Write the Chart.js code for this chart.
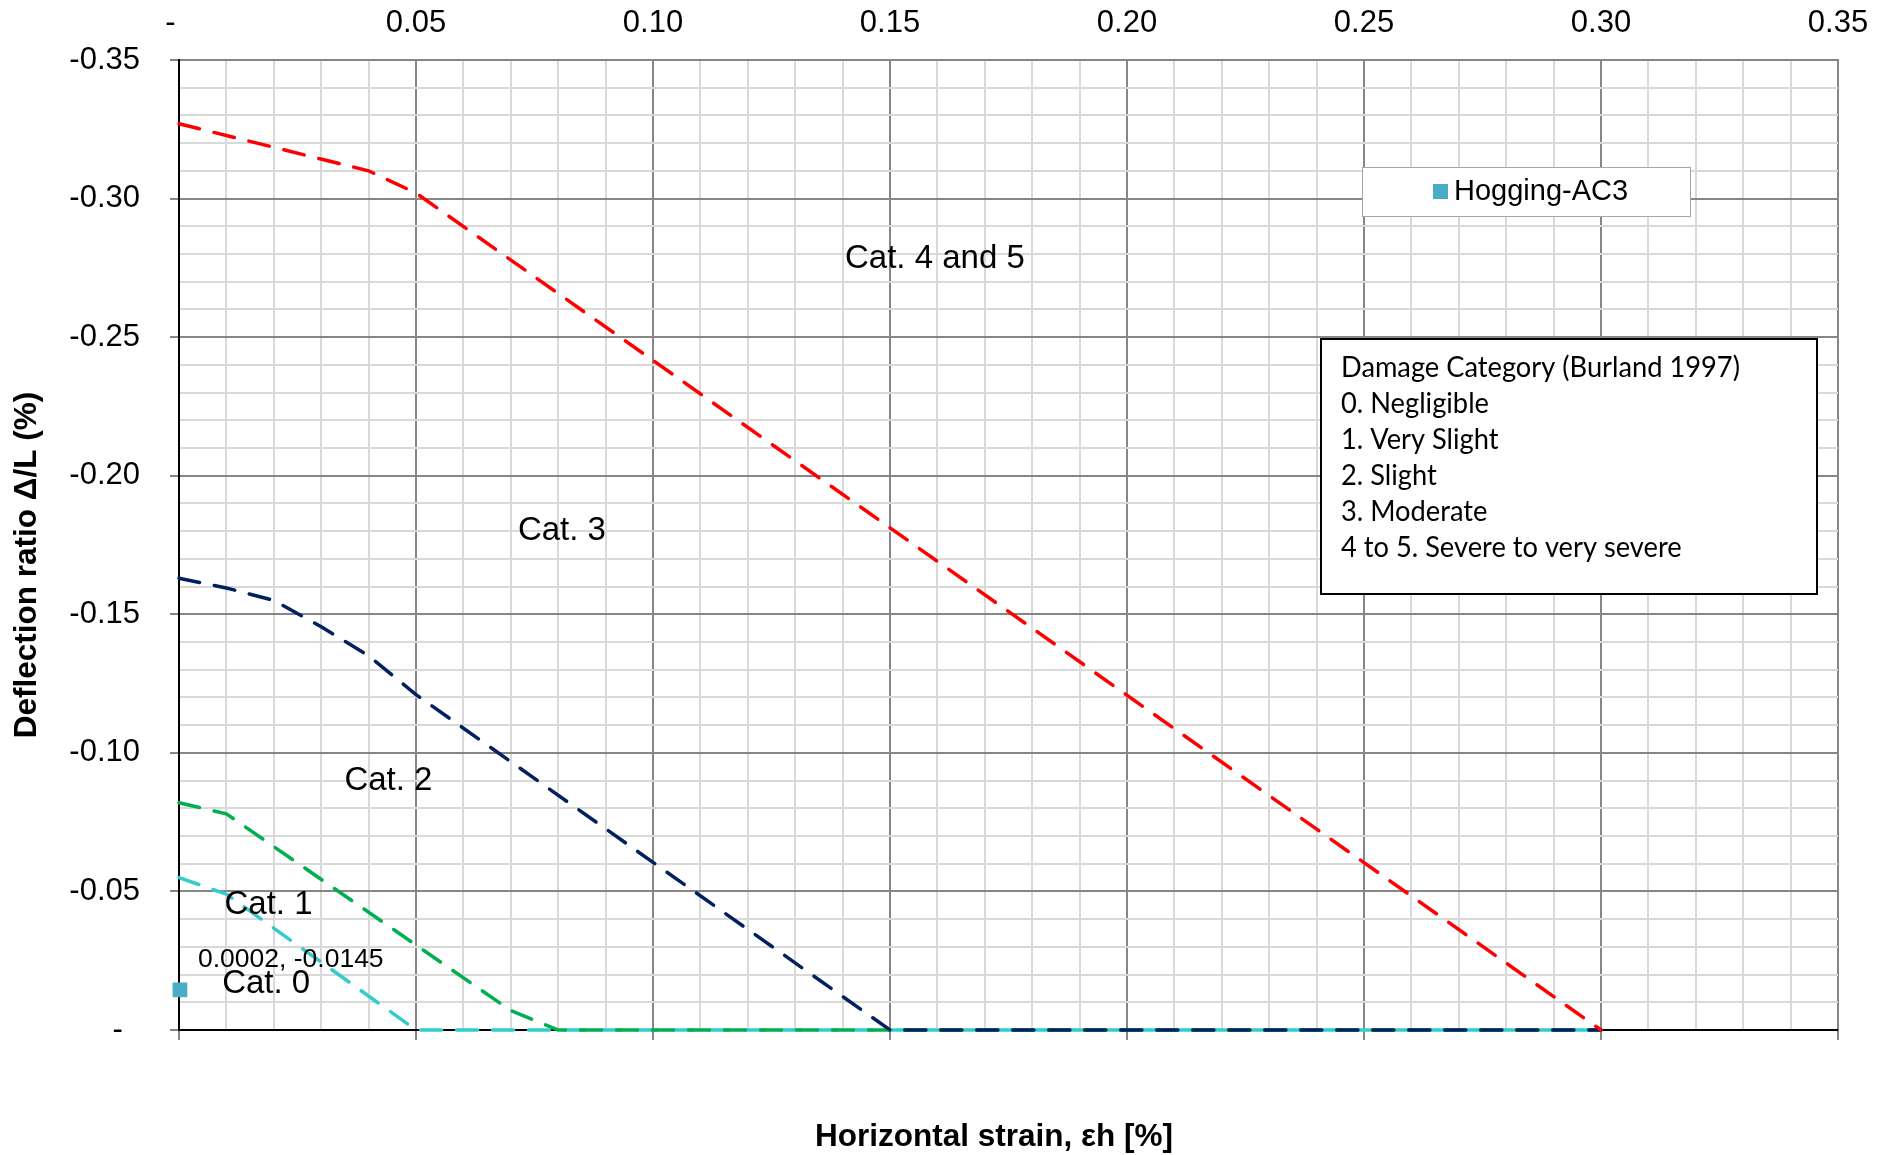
<!DOCTYPE html>
<html>
<head>
<meta charset="utf-8">
<title>Damage category chart</title>
<script src="https://cdn.jsdelivr.net/npm/chart.js@4.4.1/dist/chart.umd.min.js"></script>
<style>
  html, body { margin: 0; padding: 0; background: #fff; }
</style>
</head>
<body>
<canvas id="cDamage" width="1887" height="1155"></canvas>
<script>
// ── Datos: limites de categoria (Burland 1997) y punto medido ─────
const redX   = [0, 0.04, 0.05, 0.30];
const redY   = [-0.327, -0.310, -0.302, 0];
const navyX  = [0, 0.01, 0.02, 0.03, 0.04, 0.05, 0.15, 0.30];
const navyY  = [-0.163, -0.1595, -0.155, -0.1455, -0.135, -0.121, 0, 0];
const greenX = [0, 0.01, 0.07, 0.08, 0.30];
const greenY = [-0.082, -0.078, -0.007, 0, 0];
const cyanX  = [0, 0.01, 0.05, 0.30];
const cyanY  = [-0.055, -0.049, 0, 0];
const hogX   = [0.0002];
const hogY   = [-0.0145];

const catLabels = ['Cat. 4 and 5', 'Cat. 3', 'Cat. 2', 'Cat. 1', 'Cat. 0'];
const damageLines = [
  'Damage Category (Burland 1997)',
  '0. Negligible',
  '1. Very Slight',
  '2. Slight',
  '3. Moderate',
  '4 to 5. Severe to very severe',
];

// posicion de las etiquetas de categoria, en unidades de los ejes
const catPos = [[0.1405, -0.2798], [0.0715, -0.1816], [0.0349, -0.0913], [0.0096, -0.0467], [0.0091, -0.0181]];

const FONT = '"Liberation Sans", Arial, sans-serif';
const GRID_MAJOR = '#868686';
const GRID_MINOR = '#d9d9d9';

const pts = (xs, ys) => xs.map((v, i) => ({ x: v, y: ys[i] }));
const isMajor = v => Math.abs(Math.round(v * 100)) % 5 === 0;
const fmt = v => (Math.abs(v) < 1e-9 ? '-  ' : v.toFixed(2));

function curve(label, xs, ys, color) {
  return {
    label, data: pts(xs, ys), showLine: true,
    borderColor: color, borderWidth: 3.5,
    borderDash: [21, 15], borderCapStyle: 'round',
    pointRadius: 0, fill: false, clip: false,
  };
}

// ── Anotaciones, cuadros de leyenda y titulos de ejes ─────────────
const annotations = {
  id: 'annotations',
  afterDraw(chart) {
    const { ctx, scales: { x, y } } = chart;
    ctx.save();
    ctx.fillStyle = '#000';
    ctx.textBaseline = 'middle';
    ctx.textAlign = 'left';

    ctx.font = '33px ' + FONT;
    catLabels.forEach((t, i) => {
      ctx.fillText(t, x.getPixelForValue(catPos[i][0]), y.getPixelForValue(catPos[i][1]) + 4);
    });

    // etiqueta del punto medido
    const px = x.getPixelForValue(hogX[0]);
    const py = y.getPixelForValue(hogY[0]);
    ctx.font = '26.5px ' + FONT;
    ctx.fillText(hogX[0] + ', ' + hogY[0], px + 18, py - 30);

    // leyenda de la serie
    const hog = chart.data.datasets[0];
    ctx.fillStyle = '#fff';
    ctx.fillRect(1362, 167, 328, 49);
    ctx.strokeStyle = '#a6a6a6';
    ctx.lineWidth = 1;
    ctx.strokeRect(1362.5, 167.5, 328, 49);
    ctx.fillStyle = hog.backgroundColor;
    ctx.fillRect(1433, 184, 15, 15);
    ctx.fillStyle = '#000';
    ctx.font = '29px ' + FONT;
    ctx.fillText(hog.label, 1454, 192);

    // cuadro de categorias de dano
    ctx.fillStyle = '#fff';
    ctx.fillRect(1321, 339, 496, 255);
    ctx.strokeStyle = '#000';
    ctx.lineWidth = 2;
    ctx.strokeRect(1321, 339, 496, 255);
    ctx.fillStyle = '#000';
    ctx.font = '29px Lato, "Open Sans", sans-serif';
    ctx.save();
    ctx.translate(1341, 0);
    ctx.scale(0.94, 1);
    damageLines.forEach((t, i) => ctx.fillText(t, 0, 368 + i * 36));
    ctx.restore();

    // titulos de ejes
    ctx.font = 'bold 31.5px ' + FONT;
    ctx.textAlign = 'center';
    ctx.fillText('Horizontal strain, εh [%]', 994, 1137);
    ctx.translate(27, 565);
    ctx.rotate(-Math.PI / 2);
    ctx.fillText('Deflection ratio Δ/L (%)', 0, 0);
    ctx.restore();
  },
};

// ── Grafico ───────────────────────────────────────────────────────
const tickFont = { family: FONT, size: 31 };

new Chart(document.getElementById('cDamage'), {
  type: 'scatter',
  data: {
    datasets: [
      {
        label: 'Hogging-AC3', data: pts(hogX, hogY),
        backgroundColor: '#4bacc6', borderColor: '#4bacc6', borderWidth: 0,
        pointStyle: 'rect', pointRadius: 10.4, clip: false,
      },
      curve('Cat. 4-5 limit', redX, redY, '#ff0000'),
      curve('Cat. 3 limit', navyX, navyY, '#002060'),
      curve('Cat. 2 limit', greenX, greenY, '#00b050'),
      curve('Cat. 1 limit', cyanX, cyanY, '#33cccc'),
    ],
  },
  options: {
    responsive: false, animation: false, devicePixelRatio: 1,
    layout: { padding: { left: 0, top: 0, right: 49, bottom: 115 } },
    plugins: { legend: { display: false }, tooltip: { enabled: false } },
    scales: {
      x: {
        type: 'linear', position: 'top', min: 0, max: 0.35,
        afterFit: s => { s.height = 60; },
        border: { color: GRID_MAJOR, width: 2 },
        grid: {
          drawTicks: false, lineWidth: 2,
          color: c => (Math.abs(c.tick.value) < 1e-9 ? '#000' : isMajor(c.tick.value) ? GRID_MAJOR : GRID_MINOR),
        },
        ticks: {
          stepSize: 0.01, autoSkip: false, maxRotation: 0, padding: 18,
          color: '#000', font: tickFont,
          callback: v => (isMajor(v) ? fmt(v) : ''),
        },
      },
      x2: {
        type: 'linear', position: 'bottom', min: 0, max: 0.35,
        afterFit: s => { s.height = 10; },
        border: { display: false },
        grid: {
          drawOnChartArea: false, tickLength: 10, lineWidth: 2,
          tickColor: c => (isMajor(c.tick.value) ? GRID_MAJOR : 'rgba(0,0,0,0)'),
        },
        ticks: { stepSize: 0.01, autoSkip: false, display: false },
      },
      y: {
        type: 'linear', min: -0.35, max: 0, reverse: true,
        afterFit: s => { s.width = 179; },
        border: { color: '#000', width: 2 },
        grid: {
          tickLength: 9, lineWidth: 2,
          color: c => (Math.abs(c.tick.value) < 1e-9 ? '#000' : isMajor(c.tick.value) ? GRID_MAJOR : GRID_MINOR),
          tickColor: c => (isMajor(c.tick.value) ? GRID_MAJOR : 'rgba(0,0,0,0)'),
        },
        ticks: {
          stepSize: 0.01, autoSkip: false, padding: 30,
          color: '#000', font: tickFont,
          callback: v => (isMajor(v) ? fmt(v) : ''),
        },
      },
    },
  },
  plugins: [annotations],
});
</script>
</body>
</html>
